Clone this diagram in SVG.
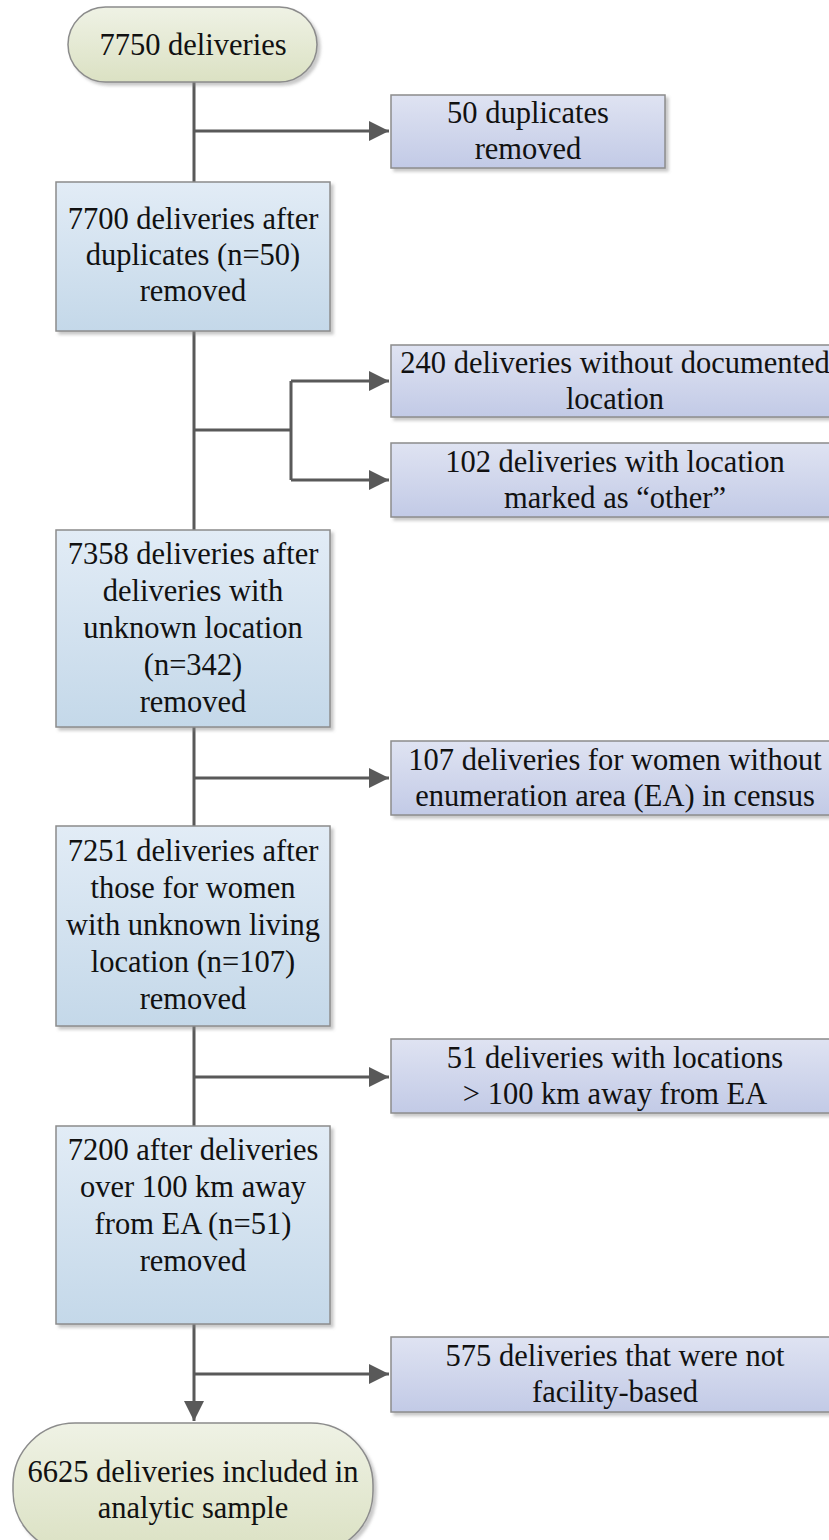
<svg xmlns="http://www.w3.org/2000/svg" width="829" height="1540" viewBox="0 0 829 1540">
<defs>
<style>
.t{font-family:"Liberation Serif","Times New Roman",serif;font-size:30.5px;fill:#111;text-anchor:middle}
.main{fill:url(#gMain);stroke:#8c8c8c;stroke-width:1.5}
.side{fill:url(#gSide);stroke:#8c8c8c;stroke-width:1.5}
.term{fill:url(#gTerm);stroke:#8c8c8c;stroke-width:1.5}
.c{fill:none;stroke:#595959;stroke-width:3}
</style>
<linearGradient id="gMain" x1="0" y1="0" x2="0" y2="1"><stop offset="0" stop-color="#e2ecf6"/><stop offset="1" stop-color="#c4d8e9"/></linearGradient>
<linearGradient id="gSide" x1="0" y1="0" x2="0" y2="1"><stop offset="0" stop-color="#dfe3f2"/><stop offset="1" stop-color="#c2cae6"/></linearGradient>
<linearGradient id="gTerm" x1="0" y1="0" x2="0" y2="1"><stop offset="0" stop-color="#eff2e5"/><stop offset="1" stop-color="#dbe1c3"/></linearGradient>
<filter id="sh" x="-10%" y="-10%" width="130%" height="130%"><feDropShadow dx="3" dy="3" stdDeviation="1.5" flood-color="#888" flood-opacity="0.45"/></filter>
<marker id="ah" markerUnits="userSpaceOnUse" markerWidth="20" markerHeight="20" refX="20" refY="10" orient="auto" viewBox="0 0 20 20"><path d="M0,0 L20,10 L0,20 z" fill="#595959"/></marker>
</defs>

<g id="connectors">
<path class="c" d="M194,82 V1421" marker-end="url(#ah)"/>
<path class="c" d="M194,131 H389" marker-end="url(#ah)"/>
<path class="c" d="M194,430 H291 M291,381 V480"/>
<path class="c" d="M291,381 H389" marker-end="url(#ah)"/>
<path class="c" d="M291,480 H389" marker-end="url(#ah)"/>
<path class="c" d="M194,778 H389" marker-end="url(#ah)"/>
<path class="c" d="M194,1077 H389" marker-end="url(#ah)"/>
<path class="c" d="M194,1374 H389" marker-end="url(#ah)"/>
</g>

<g id="n_start">
<rect class="term" filter="url(#sh)" x="68" y="7" width="249" height="75" rx="37.5"/>
<text class="t" x="193" y="55">7750 deliveries</text>
</g>

<g id="n_dup">
<rect class="side" filter="url(#sh)" x="391" y="95" width="274" height="73"/>
<text class="t" x="528" y="123">50 duplicates</text>
<text class="t" x="528" y="159">removed</text>
</g>

<g id="n_7700">
<rect class="main" filter="url(#sh)" x="56" y="182" width="274" height="149"/>
<text class="t" x="193" y="229">7700 deliveries after</text>
<text class="t" x="193" y="265">duplicates (n=50)</text>
<text class="t" x="193" y="301">removed</text>
</g>

<g id="n_240">
<rect class="side" filter="url(#sh)" x="391" y="345" width="450" height="72"/>
<text class="t" x="615" y="373">240 deliveries without documented</text>
<text class="t" x="615" y="409">location</text>
</g>

<g id="n_102">
<rect class="side" filter="url(#sh)" x="391" y="443" width="450" height="74"/>
<text class="t" x="615" y="472">102 deliveries with location</text>
<text class="t" x="615" y="508">marked as “other”</text>
</g>

<g id="n_7358">
<rect class="main" filter="url(#sh)" x="56" y="530" width="274" height="197"/>
<text class="t" x="193" y="564">7358 deliveries after</text>
<text class="t" x="193" y="601">deliveries with</text>
<text class="t" x="193" y="638">unknown location</text>
<text class="t" x="193" y="675">(n=342)</text>
<text class="t" x="193" y="712">removed</text>
</g>

<g id="n_107">
<rect class="side" filter="url(#sh)" x="391" y="741" width="450" height="74"/>
<text class="t" x="615" y="770">107 deliveries for women without</text>
<text class="t" x="615" y="806">enumeration area (EA) in census</text>
</g>

<g id="n_7251">
<rect class="main" filter="url(#sh)" x="56" y="826" width="274" height="200"/>
<text class="t" x="193" y="861">7251 deliveries after</text>
<text class="t" x="193" y="898">those for women</text>
<text class="t" x="193" y="935">with unknown living</text>
<text class="t" x="193" y="972">location (n=107)</text>
<text class="t" x="193" y="1009">removed</text>
</g>

<g id="n_51">
<rect class="side" filter="url(#sh)" x="391" y="1039" width="450" height="74"/>
<text class="t" x="615" y="1068">51 deliveries with locations</text>
<text class="t" x="615" y="1104">&gt; 100 km away from EA</text>
</g>

<g id="n_7200">
<rect class="main" filter="url(#sh)" x="56" y="1126" width="274" height="198"/>
<text class="t" x="193" y="1160">7200 after deliveries</text>
<text class="t" x="193" y="1197">over 100 km away</text>
<text class="t" x="193" y="1234">from EA (n=51)</text>
<text class="t" x="193" y="1271">removed</text>
</g>

<g id="n_575">
<rect class="side" filter="url(#sh)" x="391" y="1337" width="450" height="75"/>
<text class="t" x="615" y="1366">575 deliveries that were not</text>
<text class="t" x="615" y="1402">facility-based</text>
</g>

<g id="n_end">
<rect class="term" filter="url(#sh)" x="13" y="1423" width="360" height="130" rx="62"/>
<text class="t" x="193" y="1482">6625 deliveries included in</text>
<text class="t" x="193" y="1518">analytic sample</text>
</g>
</svg>
